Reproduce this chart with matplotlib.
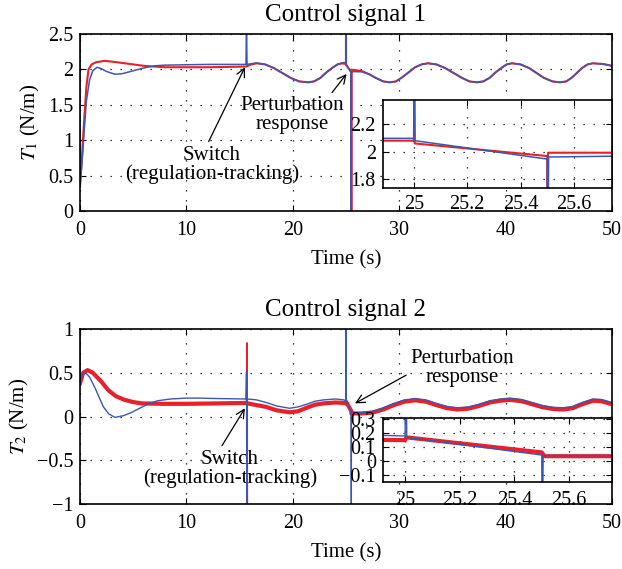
import matplotlib
matplotlib.use("Agg")
import matplotlib.pyplot as plt
from matplotlib.ticker import FuncFormatter

# T1 (control signal 1)
t1_red_t = [0, 0.2, 0.4, 0.6, 0.8, 1.1, 1.5, 2.3, 3.0, 4.0, 5.0, 6.0, 7.0, 8.0, 10, 12, 14, 15.6,
            16.1, 16.6, 17.4, 18.2, 19.0, 19.8, 20.6, 21.45, 22.0, 22.6, 23.1, 23.7, 24.2, 24.6, 24.88,
            25.0, 25.001, 25.003, 25.5, 25.501, 25.503, 25.75, 26.5, 27.2, 27.8, 28.5, 29.1, 29.7,
            30.3, 30.9, 31.5, 32.1, 32.7, 33.5, 34.3, 35.1, 35.9, 36.6, 37.3, 37.9, 38.5, 39.0, 39.6,
            40.1, 40.6, 41.4, 42.2, 42.9, 43.6, 44.4, 45.1, 45.7, 46.2, 46.7, 47.2, 47.7, 48.2, 49.2, 50]
t1_red = [0.35, 0.8, 1.3, 1.75, 2.0, 2.07, 2.1, 2.12, 2.11, 2.09, 2.07, 2.05, 2.04, 2.03, 2.03, 2.03, 2.035, 2.04,
          2.07, 2.086, 2.07, 2.02, 1.95, 1.88, 1.83, 1.817, 1.83, 1.88, 1.95, 2.02, 2.07, 2.085, 2.08,
          2.08, 2.45, 2.06, 1.969, -0.1, 1.993, 1.993, 1.975, 1.93, 1.88, 1.83, 1.817, 1.83,
          1.89, 1.96, 2.03, 2.07, 2.086, 2.07, 2.02, 1.95, 1.88, 1.83, 1.817, 1.83, 1.88, 1.95, 2.02,
          2.07, 2.086, 2.07, 2.02, 1.95, 1.88, 1.83, 1.817, 1.83, 1.88, 1.95, 2.02, 2.07, 2.086, 2.075, 2.05]

t1_blue_t = [0, 0.005, 0.2, 0.4, 0.6, 0.9, 1.2, 1.6, 2.0, 2.5, 3.3, 4.0, 5.0, 6.0, 7.0, 8.0, 10, 12, 15.6,
             15.65, 15.7, 16.1, 16.6, 17.4, 18.2, 19.0, 19.8, 20.6, 21.45, 22.0, 22.6, 23.1, 23.7, 24.2, 24.6,
             24.88, 25.0, 25.001, 25.004, 25.5, 25.501, 25.505, 25.75, 26.5, 27.2, 27.8, 28.5, 29.1, 29.7,
             30.3, 30.9, 31.5, 32.1, 32.7, 33.5, 34.3, 35.1, 35.9, 36.6, 37.3, 37.9, 38.5, 39.0, 39.6,
             40.1, 40.6, 41.4, 42.2, 42.9, 43.6, 44.4, 45.1, 45.7, 46.2, 46.7, 47.2, 47.7, 48.2, 49.2, 50]
t1_blue = [2.6, 0.35, 0.7, 1.15, 1.55, 1.85, 1.98, 2.03, 2.01, 1.97, 1.93, 1.94, 1.98, 2.02, 2.05, 2.06, 2.065, 2.07, 2.07,
           2.6, 2.07, 2.08, 2.09, 2.07, 2.02, 1.95, 1.88, 1.83, 1.817, 1.83, 1.88, 1.95, 2.02, 2.07, 2.09,
           2.097, 2.097, 2.6, 2.08, 1.947, -0.1, 1.962, 1.968, 1.965, 1.93, 1.88, 1.83, 1.817, 1.83,
           1.89, 1.96, 2.03, 2.07, 2.086, 2.07, 2.02, 1.95, 1.88, 1.83, 1.817, 1.83, 1.88, 1.95, 2.02,
           2.07, 2.086, 2.07, 2.02, 1.95, 1.88, 1.83, 1.817, 1.83, 1.88, 1.95, 2.02, 2.07, 2.086, 2.075, 2.05]

# T2 (control signal 2)
t2_red_t = [0, 0.3, 0.72, 1.2, 2.0, 2.66, 3.4, 4.2, 5.0, 5.8, 7.7, 10, 12, 14, 15.6, 15.75,
            16.6, 17.5, 18.5, 19.7, 20.5, 21.3, 22.1, 22.9, 24.0, 24.8, 25.0, 25.005, 25.5, 25.51, 25.76,
            26.5, 27.5, 28.5, 29.5, 30.5, 31.5, 32.5, 33.5, 34.5, 35.5, 36.5, 37.5, 38.5, 39.5, 40.4,
            41.5, 42.5, 43.5, 44.5, 45.4, 46.3, 47.2, 48.2, 49.0, 50]
t2_red = [0.38, 0.5, 0.53, 0.5, 0.4, 0.3, 0.23, 0.19, 0.165, 0.15, 0.145, 0.145, 0.148, 0.152, 0.155, 0.15,
          0.13, 0.11, 0.07, 0.048, 0.06, 0.1, 0.135, 0.15, 0.16, 0.155, 0.15, 0.17, 0.062, 0.035, 0.035,
          0.035, 0.045, 0.08, 0.13, 0.17, 0.185, 0.17, 0.13, 0.095, 0.08, 0.09, 0.12, 0.16, 0.18, 0.19,
          0.175, 0.14, 0.105, 0.085, 0.08, 0.095, 0.14, 0.18, 0.175, 0.14]
# thin switching spike of the red signal
t2_red_spike_t = [15.68, 15.7, 15.72]
t2_red_spike = [0.155, 0.84, -1.05]

t2_blue_t = [0, 0.005, 0.2, 0.47, 0.9, 1.4, 1.8, 2.2, 2.7, 3.3, 4.1, 4.9, 5.7, 6.5, 7.3, 8.5, 10, 11.3, 13,
             15.6, 15.65, 15.68, 15.72, 16.6, 17.5, 18.5, 19.7, 20.5, 21.3, 22.1, 22.9, 24.0, 24.8, 25.0,
             25.002, 25.006, 25.5, 25.501, 25.505, 25.76, 26.5, 27.5, 28.5, 29.5, 30.5, 31.5, 32.5, 33.5,
             34.5, 35.5, 36.5, 37.5, 38.5, 39.5, 40.4, 41.5, 42.5, 43.5, 44.5, 45.4, 46.3, 47.2, 48.2, 49.0, 50]
t2_blue = [1.1, 0.35, 0.47, 0.51, 0.45, 0.33, 0.22, 0.11, 0.03, -0.01, 0.01, 0.05, 0.1, 0.15, 0.18, 0.2, 0.21, 0.21, 0.205,
           0.2, 0.51, -1.05, 0.2, 0.19, 0.16, 0.12, 0.094, 0.11, 0.14, 0.175, 0.19, 0.2, 0.19, 0.18,
           1.1, 0.17, 0.043, -1.1, 0.04, 0.04, 0.045, 0.06, 0.1, 0.15, 0.19, 0.205, 0.19, 0.15,
           0.115, 0.1, 0.11, 0.14, 0.18, 0.2, 0.21, 0.195, 0.16, 0.125, 0.105, 0.1, 0.115, 0.16, 0.2, 0.195, 0.16]

RED = '#e8202a'
BLUE = '#3a58b0'

plt.rcParams['font.family'] = 'Liberation Serif'
plt.rcParams['mathtext.fontset'] = 'stix'
plt.rcParams['font.size'] = 15
plt.rcParams['xtick.labelsize'] = 14.5
plt.rcParams['ytick.labelsize'] = 14.5
plt.rcParams['axes.unicode_minus'] = True

fmt = FuncFormatter(lambda v, p: ('%g' % v).replace('-', '\u2212'))


def matlab_axes(ax, lw_frame=1.2):
    ax.tick_params(direction='in', top=True, right=True, length=4, width=0.8, pad=5)
    ax.tick_params(axis='x', pad=7.5)
    ax.grid(True, color='black', linestyle=(0, (1, 7)), linewidth=0.9)
    for s in ax.spines.values():
        s.set_linewidth(lw_frame)
    ax.xaxis.set_major_formatter(fmt)
    ax.yaxis.set_major_formatter(fmt)


arrow = dict(arrowstyle='->', color='black', lw=0.9, shrinkA=1, shrinkB=0)

fig = plt.figure(figsize=(6.22, 5.69), dpi=100)

# ---- control signal 1
ax1 = fig.add_axes([0.1286, 0.6292, 0.8553, 0.3111])
ax1.plot(t1_red_t, t1_red, color=RED, lw=1.5)
ax1.plot(t1_blue_t, t1_blue, color=BLUE, lw=1.1)
ax1.set_xlim(0, 50)
ax1.set_ylim(0, 2.5)
ax1.set_xticks([0, 10, 20, 30, 40, 50])
ax1.set_yticks([0, 0.5, 1, 1.5, 2, 2.5])
matlab_axes(ax1)
ax1.set_title('Control signal 1', pad=9)
ax1.set_xlabel('Time (s)', labelpad=7)
ax1.set_ylabel(r'$T_1$ (N/m)', labelpad=4)
ax1.annotate('Switch\n(regulation-tracking)', xy=(15.5, 2.03), xytext=(12.4, 0.65),
             ha='center', va='center', linespacing=1.0,
             arrowprops=dict(arrow, relpos=(0.47, 1.0)))
ax1.annotate('Perturbation\nresponse', xy=(25.05, 1.935), xytext=(19.9, 1.35),
             ha='center', va='center', linespacing=1.0,
             arrowprops=dict(arrow, relpos=(0.86, 1.0)))

ins1 = fig.add_axes([0.6153, 0.6701, 0.3691, 0.1541])
ins1.plot(t1_red_t, t1_red, color=RED, lw=1.5)
ins1.plot(t1_blue_t, t1_blue, color=BLUE, lw=1.1)
ins1.set_xlim(24.883, 25.744)
ins1.set_ylim(1.74, 2.374)
ins1.set_xticks([25, 25.2, 25.4, 25.6])
ins1.set_yticks([1.8, 2.0, 2.2])
matlab_axes(ins1)
ins1.tick_params(axis='y', pad=5)
ins1.tick_params(axis='x', pad=5)

# ---- control signal 2
ax2 = fig.add_axes([0.1286, 0.1142, 0.8553, 0.3076])
ax2.plot(t2_red_t, t2_red, color=RED, lw=3.0)
ax2.plot(t2_red_spike_t, t2_red_spike, color=RED, lw=1.3)
ax2.plot(t2_blue_t, t2_blue, color=BLUE, lw=1.0)
ax2.set_xlim(0, 50)
ax2.set_ylim(-1, 1)
ax2.set_xticks([0, 10, 20, 30, 40, 50])
ax2.set_yticks([-1, -0.5, 0, 0.5, 1])
matlab_axes(ax2)
ax2.set_title('Control signal 2', pad=9)
ax2.set_xlabel('Time (s)', labelpad=7)
ax2.set_ylabel(r'$T_2$ (N/m)', labelpad=4)
ax2.annotate('Switch\n(regulation-tracking)', xy=(15.5, 0.094), xytext=(14.1, -0.6),
             ha='center', va='center', linespacing=1.0, zorder=1,
             arrowprops=dict(arrow, relpos=(0.44, 1.0)))
ax2.annotate('Perturbation\nresponse', xy=(25.85, 0.15), xytext=(35.9, 0.55),
             ha='center', va='center', linespacing=1.0,
             arrowprops=dict(arrow, relpos=(0.08, 0.5)))

ins2 = fig.add_axes([0.6153, 0.1524, 0.3691, 0.1135])
ins2.plot(t2_red_t, t2_red, color=RED, lw=3.0)
ins2.plot(t2_blue_t, t2_blue, color=BLUE, lw=1.0)
ins2.set_xlim(24.918, 25.758)
ins2.set_ylim(-0.152, 0.311)
ins2.set_xticks([25, 25.2, 25.4, 25.6])
ins2.set_yticks([-0.1, 0, 0.1, 0.2, 0.3])
matlab_axes(ins2)
ins2.tick_params(axis='y', pad=5)
ins2.tick_params(axis='x', pad=6)

fig.savefig('out.png', dpi=100)
